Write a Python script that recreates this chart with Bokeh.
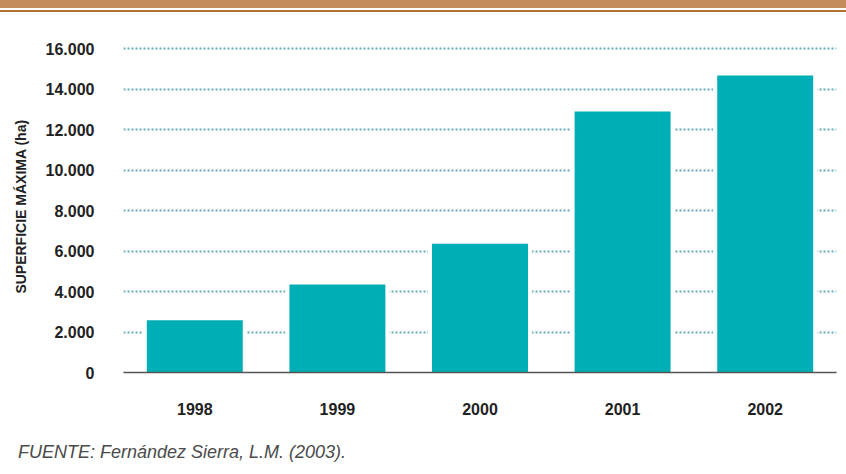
from bokeh.plotting import figure
from bokeh.models import Div, FixedTicker, Range1d, FactorRange, ColumnDataSource
from bokeh.layouts import column
from bokeh.embed import file_html
from bokeh.resources import INLINE

years = ["1998", "1999", "2000", "2001", "2002"]
superficie = [2580, 4350, 6360, 12890, 14670]
y_ticks = [0, 2000, 4000, 6000, 8000, 10000, 12000, 14000, 16000]
y_tick_labels = ["0", "2.000", "4.000", "6.000", "8.000", "10.000", "12.000", "14.000", "16.000"]

FONT = "Liberation Sans"
W = 846

band = Div(
    text=(f'<div style="width:{W}px;height:8px;background:#C48B5B"></div>'
          f'<div style="width:{W}px;height:2px;background:#FFFFFF"></div>'
          f'<div style="width:{W}px;height:2px;background:#B07232"></div>'),
    width=W, height=12, margin=0,
)

src = ColumnDataSource(dict(year=years, val=superficie))

p = figure(
    x_range=FactorRange(*years, range_padding=0),
    y_range=Range1d(0, 16400),
    width=W, height=418,
    output_backend="svg", toolbar_location=None,
    min_border_left=123, min_border_right=10,
    min_border_top=28, min_border_bottom=58,
)
p.outline_line_color = None
p.background_fill_color = "white"
p.border_fill_color = "white"

# white halo bars to interrupt the dotted grid around bars
p.vbar(x="year", top="val", width=0.73, source=src, fill_color="white", line_color=None)
p.vbar(x="year", top="val", width=0.673, source=src, fill_color="#00AFB5", line_color=None)

p.yaxis.ticker = FixedTicker(ticks=y_ticks)
p.yaxis.major_label_overrides = {t: s for t, s in zip(y_ticks, y_tick_labels)}
p.yaxis.axis_line_color = None
p.yaxis.major_tick_line_color = None
p.yaxis.minor_tick_line_color = None
p.yaxis.major_label_standoff = 23
p.yaxis.major_label_text_font = FONT
p.yaxis.major_label_text_font_style = "bold"
p.yaxis.major_label_text_font_size = "16px"
p.yaxis.major_label_text_color = "#222222"
p.yaxis.axis_label = "SUPERFICIE MÁXIMA (ha)"
p.yaxis.axis_label_text_font = FONT
p.yaxis.axis_label_text_font_style = "bold"
p.yaxis.axis_label_text_font_size = "14px"
p.yaxis.axis_label_text_color = "#222222"
p.yaxis.axis_label_standoff = 14

p.xaxis.axis_line_color = "#555555"
p.xaxis.axis_line_width = 1.5
p.xaxis.major_tick_line_color = None
p.xaxis.minor_tick_line_color = None
p.xaxis.major_label_standoff = 24
p.xaxis.major_label_text_font = FONT
p.xaxis.major_label_text_font_style = "bold"
p.xaxis.major_label_text_font_size = "16px"
p.xaxis.major_label_text_color = "#222222"

p.xgrid.grid_line_color = None
p.ygrid.grid_line_color = "#62ABB6"
p.ygrid.grid_line_width = 2
p.ygrid.grid_line_dash = "2 2"

source_note = Div(
    text=('<div style="padding-top:12px;padding-left:18px;font-family:\'Liberation Sans\';'
          'font-style:italic;font-size:18px;line-height:20px;color:#4A4A4A;white-space:nowrap">'
          'FUENTE: Fernández Sierra, L.M. (2003).</div>'),
    width=W, height=44, margin=0,
)

layout = column(band, p, source_note, spacing=0)
open("out.html", "w").write(file_html(layout, INLINE))
